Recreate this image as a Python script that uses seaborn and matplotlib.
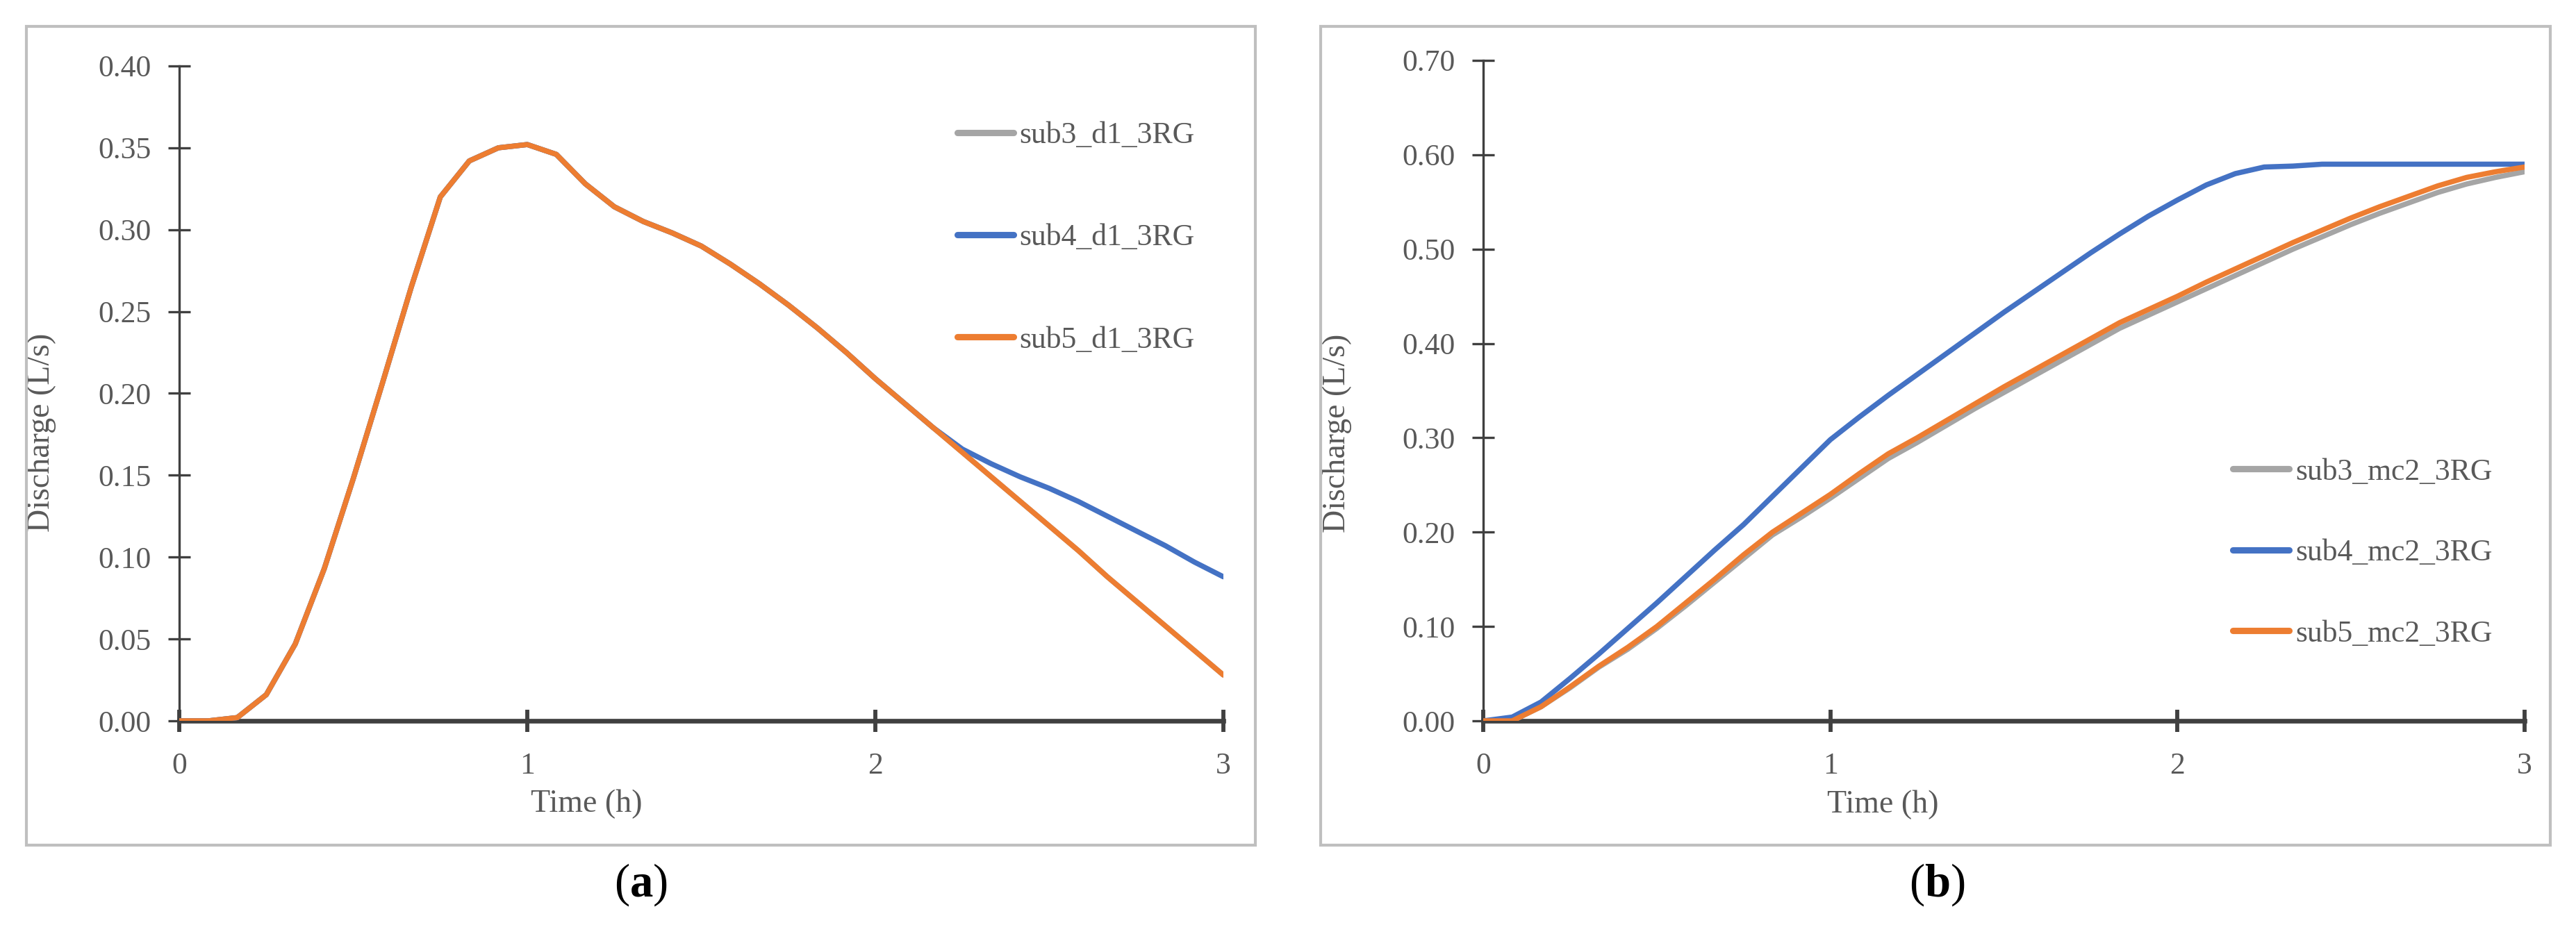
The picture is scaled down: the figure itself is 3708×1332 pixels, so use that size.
import pandas as pd
import matplotlib.pyplot as plt
import matplotlib.patches as mpatches
import seaborn as sns

# time steps (minutes) -> hours
minutes = [0, 5, 10, 15, 20, 25, 30, 35, 40, 45, 50, 55, 60, 65, 70, 75, 80, 85, 90,
           95, 100, 105, 110, 115, 120, 125, 130, 135, 140, 145, 150, 155, 160, 165,
           170, 175, 180]
hours = [m / 60 for m in minutes]

# panel (a)
sub5_d1 = [0.000, 0.000, 0.002, 0.016, 0.047, 0.093, 0.148, 0.206, 0.265, 0.320,
           0.342, 0.350, 0.352, 0.346, 0.328, 0.314, 0.305, 0.298, 0.290, 0.279,
           0.267, 0.254, 0.240, 0.225, 0.209, 0.194, 0.179, 0.164, 0.149, 0.134,
           0.119, 0.104, 0.088, 0.073, 0.058, 0.043, 0.028]
sub3_d1 = list(sub5_d1)
sub4_d1 = [0.000, 0.000, 0.002, 0.016, 0.047, 0.093, 0.148, 0.206, 0.265, 0.320,
           0.342, 0.350, 0.352, 0.346, 0.328, 0.314, 0.305, 0.298, 0.290, 0.279,
           0.267, 0.254, 0.240, 0.225, 0.209, 0.194, 0.179, 0.166, 0.157, 0.149,
           0.142, 0.134, 0.125, 0.116, 0.107, 0.097, 0.088]

# panel (b)
sub3_mc2 = [0.000, 0.000, 0.015, 0.035, 0.057, 0.076, 0.098, 0.122, 0.147, 0.172,
            0.197, 0.216, 0.236, 0.257, 0.278, 0.295, 0.313, 0.331, 0.348, 0.365,
            0.382, 0.399, 0.416, 0.430, 0.444, 0.458, 0.472, 0.486, 0.500, 0.513,
            0.526, 0.538, 0.549, 0.560, 0.569, 0.576, 0.582]
sub4_mc2 = [0.000, 0.004, 0.020, 0.045, 0.071, 0.098, 0.125, 0.153, 0.181, 0.208,
            0.238, 0.268, 0.298, 0.322, 0.345, 0.367, 0.389, 0.411, 0.433, 0.454,
            0.475, 0.496, 0.516, 0.535, 0.552, 0.568, 0.580, 0.587, 0.588, 0.590,
            0.590, 0.590, 0.590, 0.590, 0.590, 0.590, 0.590]
sub5_mc2 = [0.000, 0.000, 0.015, 0.036, 0.058, 0.078, 0.100, 0.125, 0.150, 0.176,
            0.200, 0.220, 0.240, 0.262, 0.283, 0.300, 0.318, 0.336, 0.354, 0.371,
            0.388, 0.405, 0.422, 0.436, 0.450, 0.465, 0.479, 0.493, 0.507, 0.520,
            0.533, 0.545, 0.556, 0.567, 0.576, 0.582, 0.587]

labels_a = ["sub3_d1_3RG", "sub4_d1_3RG", "sub5_d1_3RG"]
labels_b = ["sub3_mc2_3RG", "sub4_mc2_3RG", "sub5_mc2_3RG"]
colors = ["#A5A5A5", "#4472C4", "#ED7D31"]

df_a = pd.DataFrame({"Time": hours * 3,
                     "Discharge": sub3_d1 + sub4_d1 + sub5_d1,
                     "series": [s for s in labels_a for _ in hours]})
df_b = pd.DataFrame({"Time": hours * 3,
                     "Discharge": sub3_mc2 + sub4_mc2 + sub5_mc2,
                     "series": [s for s in labels_b for _ in hours]})

sns.set_theme(style="white")
plt.rcParams["font.family"] = ["Liberation Serif", "DejaVu Serif"]
plt.rcParams["mathtext.fontset"] = "custom"
plt.rcParams["mathtext.rm"] = "Liberation Serif"
plt.rcParams["mathtext.bf"] = "Liberation Serif:bold"

txt = "#595959"
axc = "#404040"

fig = plt.figure(figsize=(12.36, 4.44), dpi=300)
ax_a = fig.add_axes([0.0696, 0.2207, 0.4053, 0.7080])
ax_b = fig.add_axes([0.5758, 0.2207, 0.4042, 0.7140])

# outer frames of the two panels
for x0, x1 in [(0.0102, 0.4873), (0.5127, 0.9900)]:
    fig.patches.append(mpatches.Rectangle((x0, 0.0863), x1 - x0, 0.9715 - 0.0863,
                                          transform=fig.transFigure, fill=False,
                                          edgecolor="#BFBFBF", linewidth=1.0))


def style(ax, df, labels, ymax, ystep, fmt, leg_xy, leg_space, xl_x, yl_x, yl_y):
    sns.lineplot(data=df, x="Time", y="Discharge", hue="series", hue_order=labels,
                 palette=colors, linewidth=1.8, ax=ax)
    ax.set_xlim(0, 3)
    ax.set_ylim(0, ymax)
    ax.set_xticks([0, 1, 2, 3])
    yt = [i * ystep for i in range(int(round(ymax / ystep)) + 1)]
    ax.set_yticks(yt)
    ax.set_yticklabels([fmt.format(v) for v in yt])
    for s in ["top", "right"]:
        ax.spines[s].set_visible(False)
    ax.spines["left"].set_color(axc)
    ax.spines["left"].set_linewidth(0.8)
    ax.spines["bottom"].set_color(axc)
    ax.spines["bottom"].set_linewidth(1.6)
    ax.spines["left"].set_zorder(1)
    ax.spines["bottom"].set_zorder(1)
    ax.tick_params(axis="y", direction="inout", length=7.5, width=0.8, color=axc,
                   labelcolor=txt, labelsize=10.5, pad=6, left=True)
    ax.tick_params(axis="x", direction="inout", length=7.5, width=1.4, color=axc,
                   labelcolor=txt, labelsize=10.5, pad=7, bottom=True)
    ax.set_xlabel("Time (h)", color=txt, fontsize=11)
    ax.set_ylabel("Discharge (L/s)", color=txt, fontsize=11)
    ax.xaxis.set_label_coords(xl_x, -0.105)
    ax.yaxis.set_label_coords(yl_x, yl_y)
    ax.legend(loc="upper left", bbox_to_anchor=leg_xy, frameon=False, fontsize=10.5,
              labelcolor=txt, handlelength=1.85, handletextpad=0.2, borderpad=0,
              borderaxespad=0, labelspacing=leg_space)
    for line in ax.get_legend().get_lines():
        line.set_linewidth(2.2)


style(ax_a, df_a, labels_a, 0.40, 0.05, "{:.2f}", (0.745, 0.915), 2.45, 0.39, -0.118, 0.44)
style(ax_b, df_b, labels_b, 0.70, 0.10, "{:.2f}", (0.720, 0.398), 1.75, 0.384, -0.126, 0.435)

fig.text(0.2487, 0.0435, r"($\mathbf{a}$)", ha="center", va="center", fontsize=16,
         color="black")
fig.text(0.752, 0.0435, r"($\mathbf{b}$)", ha="center", va="center", fontsize=16,
         color="black")

fig.savefig("out.png", dpi=300, facecolor="white")
